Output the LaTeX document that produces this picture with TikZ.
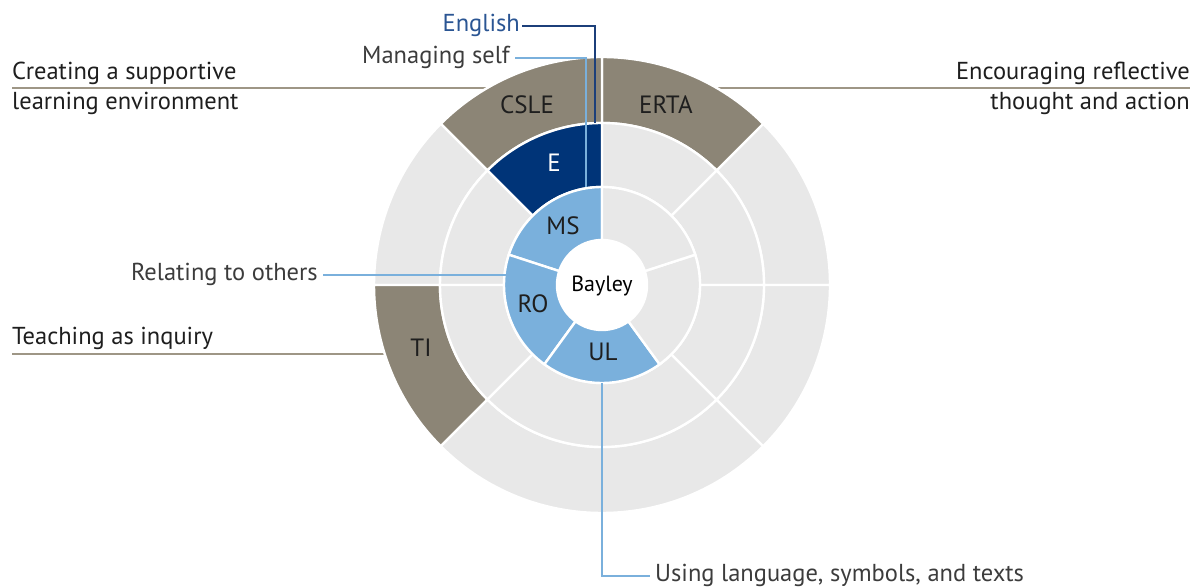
\documentclass[tikz,border=0pt]{standalone}
\usepackage{fontspec}
\setmainfont{PT Sans}
\usetikzlibrary{calc}
\definecolor{taupe}{HTML}{8C8576}
\definecolor{taupeline}{HTML}{9E9686}
\definecolor{navy}{HTML}{003478}
\definecolor{navyline}{HTML}{1C3F7A}
\definecolor{navytext}{HTML}{2A5593}
\definecolor{sky}{HTML}{7AB0DC}
\definecolor{ringgray}{HTML}{E8E8E8}
\definecolor{labelgray}{HTML}{3C3C3C}
\definecolor{darktext}{HTML}{1E1E1E}
\newcommand{\sect}[5]{%
  \filldraw[fill=#5, draw=white, line width=2.4pt]
    (#3:#1) arc[start angle=#3, end angle=#4, radius=#1] --
    (#4:#2) arc[start angle=#4, end angle=#3, radius=#2] -- cycle;}
\tikzset{
  outerlab/.style={font=\fontsize{24.5}{28}\selectfont, text=labelgray, inner sep=0pt},
  headlab/.style={font=\fontsize{24.5}{28}\selectfont, text=darktext, inner sep=0pt},
  seglab/.style={font=\fontsize{25}{28}\selectfont, text=darktext, inner sep=0pt},
  headline/.style={draw=taupeline, line width=2.6pt},
  skyline/.style={draw=sky, line width=2pt},
  navyconn/.style={draw=navyline, line width=2pt}
}
\begin{document}
\begin{tikzpicture}[x=1pt,y=1pt]
\useasboundingbox (0,0) rectangle (1193,588);
% head lines (behind the disk)
\coordinate (hlL) at (12,500);
\coordinate (hlR) at (1190,500);
\coordinate (tlL) at (12,234);
\coordinate (tlR) at (400,234);
\draw[headline] (hlL) -- (hlR);
\draw[headline] (tlL) -- (tlR);
% disk
\begin{scope}[shift={(602,303)}]
  % outer ring
  \sect{162pt}{228pt}{0}{45}{ringgray}
  \sect{162pt}{228pt}{45}{90}{taupe}
  \sect{162pt}{228pt}{90}{135}{taupe}
  \sect{162pt}{228pt}{135}{180}{ringgray}
  \sect{162pt}{228pt}{180}{225}{taupe}
  \sect{162pt}{228pt}{225}{315}{ringgray}
  \sect{162pt}{228pt}{315}{360}{ringgray}
  % middle ring
  \sect{98pt}{162pt}{0}{45}{ringgray}
  \sect{98pt}{162pt}{45}{90}{ringgray}
  \sect{98pt}{162pt}{90}{135}{navy}
  \sect{98pt}{162pt}{135}{180}{ringgray}
  \sect{98pt}{162pt}{180}{225}{ringgray}
  \sect{98pt}{162pt}{225}{315}{ringgray}
  \sect{98pt}{162pt}{315}{360}{ringgray}
  % inner ring
  \sect{45pt}{98pt}{90}{162}{sky}
  \sect{45pt}{98pt}{162}{234}{sky}
  \sect{45pt}{98pt}{234}{306}{sky}
  \sect{45pt}{98pt}{306}{378}{ringgray}
  \sect{45pt}{98pt}{18}{90}{ringgray}
  \fill[white] (0,0) circle[radius=45pt];
\end{scope}
% segment labels
\node[seglab] (csle) at (527,483) {CSLE};
\node[seglab] (erta) at (666,483) {ERTA};
\node[seglab, text=white] (e) at (554,425) {E};
\node[seglab] (ms) at (563,362) {MS};
\node[seglab] (ro) at (533,284) {RO};
\node[seglab] (ul) at (603,236) {UL};
\node[seglab] (ti) at (421,240) {TI};
\node[seglab, font=\fontsize{22}{26}\selectfont, text=black, anchor=base] (bay) at (602,296) {Bayley};
% outer labels
\node[headlab, anchor=base west] (csl1) at (12,508) {Creating a supportive};
\node[headlab, anchor=base west] (csl2) at (12,478) {learning environment};
\node[headlab, anchor=base east] (ert1) at (1190,508) {Encouraging reflective};
\node[headlab, anchor=base east] (ert2) at (1190,478) {thought and action};
\node[headlab, anchor=base west] (tia) at (12,243) {Teaching as inquiry};
\node[outerlab, text=navytext, anchor=base east, inner sep=2pt] (eng) at (522,556) {English};
\node[outerlab, anchor=base east, inner sep=5pt] (mse) at (515,524) {Managing self};
\node[outerlab, anchor=base east, inner sep=5pt] (rel) at (323,307) {Relating to others};
\node[outerlab, anchor=base west, inner sep=5pt] (use) at (650,6) {Using language, symbols, and texts};
% connectors
\coordinate (eEnd) at (595,465);
\coordinate (msEnd) at (586,401);
\coordinate (roEnd) at (506,315);
\coordinate (ulEnd) at (602,205);
\draw[navyconn] (eng.east) -| (eEnd);
\draw[skyline] (mse.east) -| (msEnd);
\draw[skyline] (rel.east) -- (rel.east -| roEnd);
\draw[skyline] (ulEnd) |- (use.west);
\end{tikzpicture}
\end{document}
